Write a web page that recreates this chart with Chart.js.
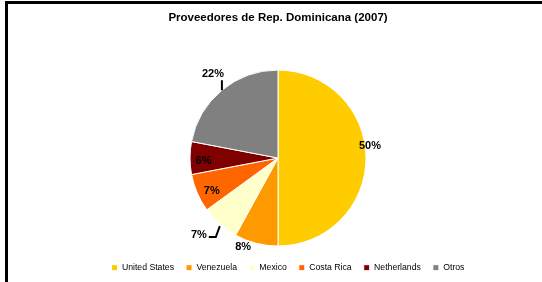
<!DOCTYPE html>
<html>
<head>
<meta charset="utf-8">
<script src="https://cdn.jsdelivr.net/npm/chart.js@4.4.0/dist/chart.umd.min.js"></script>
<style>
  html, body { margin: 0; padding: 0; background: #fff; overflow: hidden; }
  #wrap { position: relative; width: 542px; height: 282px; }
  #frame {
    position: absolute; left: 5px; top: 1px; width: 600px; height: 300px;
    border-left: 3px solid #000; border-top: 3px solid #000;
    pointer-events: none;
  }
</style>
</head>
<body>
<div id="wrap">
  <canvas id="myChart" width="542" height="282"></canvas>
  <div id="frame"></div>
</div>
<script>
// data
const countries = ['United States', 'Venezuela', 'Mexico', 'Costa Rica', 'Netherlands', 'Otros'];
const shares = [50, 8, 7, 7, 6, 22];
const sliceColors = ['#FFCC00', '#FF9900', '#FFFFCC', '#FF6600', '#800000', '#808080'];

// where each percent label sits (f = fraction of radius along mid angle)
const labelPlace = [
  { f: 1.045, dx: 0, dy: -12 },
  { f: 1.09, dx: -11, dy: -4 },
  { leader: 'elbow' },
  { f: 0.82, dx: 0, dy: 4 },
  { f: 0.847, dx: 0, dy: 3 },
  { leader: 'up' }
];
let legendShift = 10; // legend sits a little right of the pie

const pctLabels = {
  id: 'pctLabels',
  afterLayout(chart) {
    chart.legend.left += legendShift;
    chart.legend.right += legendShift;
  },
  afterDatasetsDraw(chart) {
    const ctx = chart.ctx;
    const meta = chart.getDatasetMeta(0);
    ctx.save();
    ctx.font = 'bold 11px "Liberation Sans", Arial, sans-serif';
    ctx.fillStyle = '#000';
    ctx.strokeStyle = '#000';
    ctx.lineWidth = 2;
    meta.data.forEach((arc, i) => {
      const p = arc.getProps(['x', 'y', 'startAngle', 'endAngle', 'outerRadius'], true);
      const mid = (p.startAngle + p.endAngle) / 2;
      const txt = shares[i] + '%';
      const place = labelPlace[i];
      const ex = p.x + Math.cos(mid) * p.outerRadius;
      const ey = p.y + Math.sin(mid) * p.outerRadius;
      if (place.leader === 'up') {
        ctx.beginPath();
        ctx.moveTo(ex, ey);
        ctx.lineTo(ex, ey - 10);
        ctx.stroke();
        ctx.textAlign = 'right';
        ctx.textBaseline = 'middle';
        ctx.fillText(txt, ex + 2, ey - 16);
      } else if (place.leader === 'elbow') {
        ctx.beginPath();
        ctx.moveTo(ex, ey + 2);
        ctx.lineTo(ex - 4, ey + 13);
        ctx.lineTo(ex - 11, ey + 13);
        ctx.stroke();
        ctx.textAlign = 'right';
        ctx.textBaseline = 'middle';
        ctx.fillText(txt, ex - 13, ey + 11);
      } else {
        const r = p.outerRadius * place.f;
        ctx.textAlign = 'center';
        ctx.textBaseline = 'middle';
        ctx.fillText(txt, p.x + Math.cos(mid) * r + place.dx, p.y + Math.sin(mid) * r + place.dy);
      }
    });
    ctx.restore();
  }
};

const ctx = document.getElementById('myChart').getContext('2d');
const pieChart = new Chart(ctx, {
  type: 'pie',
  data: {
    labels: countries,
    datasets: [{
      data: shares,
      backgroundColor: sliceColors,
      borderColor: '#ffffff',
      borderWidth: 1
    }]
  },
  options: {
    responsive: false,
    animation: false,
    radius: 88,
    layout: {
      padding: { left: 14, right: 0, top: 5, bottom: 0 }
    },
    plugins: {
      title: {
        display: true,
        text: 'Proveedores de Rep. Dominicana (2007)',
        color: '#000',
        font: { family: '"Liberation Sans", Arial, sans-serif', size: 11.5, weight: 'bold' },
        padding: { top: 6, bottom: 40 }
      },
      legend: {
        position: 'bottom',
        labels: {
          boxWidth: 6,
          boxHeight: 6,
          padding: 12,
          color: '#000',
          font: { family: '"Liberation Sans", Arial, sans-serif', size: 8.7 }
        }
      },
      tooltip: { enabled: false }
    }
  },
  plugins: [pctLabels]
});
</script>
</body>
</html>
